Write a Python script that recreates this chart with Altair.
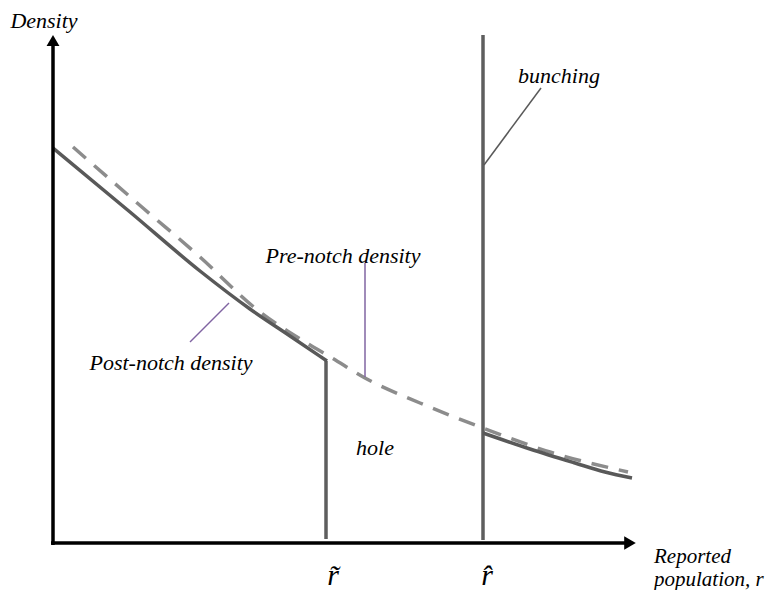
import altair as alt
import pandas as pd

# Conceptual units: x = reported population (0 at origin),
# y = density (0 at origin)
pre_x = [20, 90, 147, 202, 252, 279, 312, 367, 430, 497, 575]
pre_y = [396, 335, 286, 235, 201, 185, 165, 140, 115, 91, 71]

post_left_x = [0, 77, 147, 197, 237, 274]
post_left_y = [395, 331, 272, 234, 207, 182]

post_right_x = [430, 477, 522, 552, 579]
post_right_y = [110, 94, 80, 71, 65]

r_tilde = 273
r_hat = 430
r_tilde_top = 182
r_hat_top = 508

x_axis_end = 583
y_axis_end = 508

labels = ["Density", "Pre-notch density", "Post-notch density", "bunching", "hole"]
label_x = [-9, 290, 118, 506, 322]
label_y = [515, 280, 173, 460, 88]

xlabel_lines = ["Reported", "population, r"]
xlabel_x = [601, 601]
xlabel_y = [-20, -43]

tick_labels = ["r\u0303", "r\u0302"]
tick_x = [r_tilde + 7, r_hat + 4]
tick_y = [-42, -42]

# leader lines (start -> end)
lead_names = ["pre", "post", "bunch"]
lead_x1 = [312, 176, 488]
lead_y1 = [280, 240, 455]
lead_x2 = [312, 137, 431]
lead_y2 = [166, 201, 378]
lead_col = ["#8064a2", "#8064a2", "#595959"]

XS = alt.Scale(domain=[-45, 714], nice=False, zero=False)
YS = alt.Scale(domain=[-47, 535], nice=False, zero=False)

def X(f="x"):
    return alt.X(f"{f}:Q", scale=XS, axis=None)

def Y(f="y"):
    return alt.Y(f"{f}:Q", scale=YS, axis=None)

FONT = "Liberation Serif"

pre_df = pd.DataFrame({"x": pre_x, "y": pre_y, "o": range(len(pre_x))})
pl_df = pd.DataFrame({"x": post_left_x, "y": post_left_y, "o": range(len(post_left_x))})
pr_df = pd.DataFrame({"x": post_right_x, "y": post_right_y, "o": range(len(post_right_x))})

pre_line = alt.Chart(pre_df).mark_line(
    color="#8c8c8c", strokeWidth=3.5, strokeDash=[17, 11], interpolate="monotone"
).encode(x=X(), y=Y(), order="o:Q")

post_left = alt.Chart(pl_df).mark_line(
    color="#595959", strokeWidth=3.5, interpolate="monotone"
).encode(x=X(), y=Y(), order="o:Q")

post_right = alt.Chart(pr_df).mark_line(
    color="#595959", strokeWidth=3.5, interpolate="monotone"
).encode(x=X(), y=Y(), order="o:Q")

vert_df = pd.DataFrame({"x": [r_tilde, r_hat], "y": [4, 3], "y2": [r_tilde_top, r_hat_top]})
verts = alt.Chart(vert_df).mark_rule(color="#5e5e5e", strokeWidth=3.5).encode(
    x=X(), y=Y(), y2="y2:Q"
)

# axes
yaxis_df = pd.DataFrame({"x": [0], "y": [-2], "y2": [y_axis_end - 10]})
xaxis_df = pd.DataFrame({"x": [-2], "x2": [x_axis_end - 10], "y": [0]})
yaxis = alt.Chart(yaxis_df).mark_rule(color="black", strokeWidth=3.5).encode(
    x=X(), y=Y(), y2="y2:Q"
)
xaxis = alt.Chart(xaxis_df).mark_rule(color="black", strokeWidth=3.5).encode(
    x=X(), x2="x2:Q", y=Y()
)
up_df = pd.DataFrame({"x": [0], "y": [y_axis_end - 5.5]})
right_df = pd.DataFrame({"x": [x_axis_end - 6], "y": [0]})
arrow_up = alt.Chart(up_df).mark_point(
    shape="triangle-up", filled=True, color="black", size=165, opacity=1
).encode(x=X(), y=Y())
arrow_right = alt.Chart(right_df).mark_point(
    shape="triangle-right", filled=True, color="black", size=180, opacity=1
).encode(x=X(), y=Y())

lead_df = pd.DataFrame({"n": lead_names, "x": lead_x1, "y": lead_y1,
                        "x2": lead_x2, "y2": lead_y2, "c": lead_col})
leads = alt.Chart(lead_df).mark_rule(strokeWidth=1.5).encode(
    x=X(), y=Y(), x2="x2:Q", y2="y2:Q",
    color=alt.Color("c:N", scale=None)
)

lab_df = pd.DataFrame({"t": labels, "x": label_x, "y": label_y})
texts = alt.Chart(lab_df).mark_text(
    font=FONT, fontStyle="italic", fontSize=22, color="black",
    align="center", baseline="alphabetic"
).encode(x=X(), y=Y(), text="t:N")

xl_df = pd.DataFrame({"t": xlabel_lines, "x": xlabel_x, "y": xlabel_y})
xlab = alt.Chart(xl_df).mark_text(
    font=FONT, fontStyle="italic", fontSize=21, color="black",
    align="left", baseline="alphabetic"
).encode(x=X(), y=Y(), text="t:N")

tk_df = pd.DataFrame({"t": tick_labels, "x": tick_x, "y": tick_y})
ticks = alt.Chart(tk_df).mark_text(
    font=FONT, fontStyle="italic", fontSize=30, color="black",
    align="center", baseline="alphabetic"
).encode(x=X(), y=Y(), text="t:N")

chart = alt.layer(
    verts, pre_line, post_left, post_right, yaxis, xaxis, arrow_up, arrow_right,
    leads, texts, xlab, ticks
).properties(
    width=759, height=582, padding=0,
    autosize=alt.AutoSizeParams(type="none")
).configure_view(stroke=None)

chart.save("out.html", embed_options={"renderer": "svg", "actions": False})
